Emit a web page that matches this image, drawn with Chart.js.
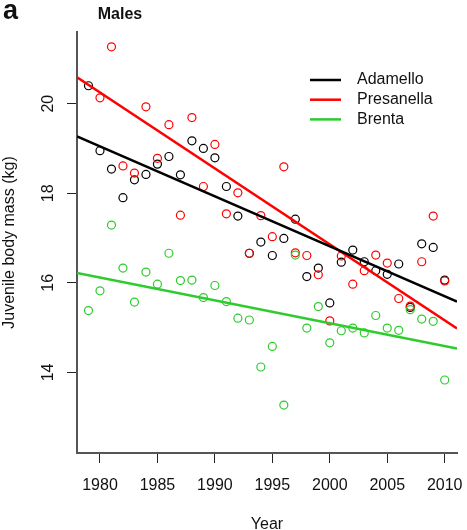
<!DOCTYPE html>
<html>
<head>
<meta charset="utf-8">
<script src="https://cdn.jsdelivr.net/npm/chart.js@4/dist/chart.umd.min.js"></script>
<style>
  html, body { margin: 0; padding: 0; background: #fff; }
  #wrap { position: relative; width: 467px; height: 530px; }
</style>
</head>
<body>
<div id="wrap"><canvas id="chart"></canvas></div>
<script>
// Juvenile body mass of males by year, three mountain groups
const years = [1979, 1980, 1981, 1982, 1983, 1984, 1985, 1986, 1987, 1988, 1989,
    1990, 1991, 1992, 1993, 1994, 1995, 1996, 1997, 1998, 1999,
    2000, 2001, 2002, 2003, 2004, 2005, 2006, 2007, 2008, 2009, 2010];

const adamello = [20.40, 18.95, 18.54, 17.90, 18.30, 18.42, 18.65, 18.82, 18.41, 19.17, 19.00,
    18.79, 18.15, 17.49, 16.66, 16.91, 16.61, 16.99, 17.42, 16.14, 16.33,
    15.55, 16.46, 16.73, 16.47, 16.27, 16.19, 16.42, 15.45, 16.87, 16.79, 16.06];

const presanella = [null, 20.13, 21.27, 18.61, 18.45, 19.93, 18.78, 19.53, 17.51, 19.69, 18.15,
    19.09, 17.54, 18.01, 16.66, 17.50, 17.03, 18.59, 16.67, 16.61, 16.18,
    15.15, 16.60, 15.97, 16.27, 16.62, 16.44, 15.65, 15.48, 16.47, 17.49, 16.04];

const brenta = [15.38, 15.82, 17.29, 16.33, 15.57, 16.24, 15.97, 16.66, 16.05, 16.06, 15.67,
    15.94, 15.58, 15.21, 15.17, 14.12, 14.58, 13.27, 16.62, 14.99, 15.47,
    14.66, 14.93, 14.99, 14.88, 15.27, 14.99, 14.94, 15.40, 15.19, 15.14, 13.83];

// regression lines, read at the two edges of the plot
const fitYears = [1978, 2011.07];
const adamelloFit = [19.27, 15.58];
const presanellaFit = [20.59, 14.98];
const brentaFit = [16.22, 14.53];

const xTicks = [1980, 1985, 1990, 1995, 2000, 2005, 2010];
const yTicks = [14, 16, 18, 20];

const FONT = '"Liberation Sans", Arial, Helvetica, sans-serif';
const BLACK = '#000000';
const RED = '#ff0000';
const GREEN = '#2ccc2c';

function points(vals) {
    return years.map(function (yr, i) { return { x: yr, y: vals[i] }; })
        .filter(function (p) { return p.y !== null; });
}
function fitLine(vals) {
    return fitYears.map(function (yr, i) { return { x: yr, y: vals[i] }; });
}
function scatterSet(label, vals, color, order) {
    return {
        type: 'scatter', label: label, data: points(vals), order: order,
        pointStyle: 'circle', pointRadius: 4, pointHoverRadius: 4,
        pointBorderWidth: 1.2, borderColor: color, backgroundColor: 'rgba(0,0,0,0)'
    };
}
function lineSet(label, vals, color) {
    return {
        type: 'line', label: label, data: fitLine(vals), order: 0,
        borderColor: color, borderWidth: 2.5, pointRadius: 0, fill: false, tension: 0
    };
}

const series = [
    { name: 'Adamello', color: BLACK },
    { name: 'Presanella', color: RED },
    { name: 'Brenta', color: GREEN }
];

// rotated y labels, panel letter, title and legend
const decorations = {
    id: 'decorations',
    afterDraw: function (chart) {
        const ctx = chart.ctx;
        const ys = chart.scales.y;
        ctx.save();
        ctx.fillStyle = '#111';
        ctx.font = '16px ' + FONT;
        ctx.textAlign = 'center';
        ctx.textBaseline = 'alphabetic';
        yTicks.forEach(function (v) {
            const py = ys.getPixelForValue(v);
            ctx.save();
            ctx.translate(53, py);
            ctx.rotate(-Math.PI / 2);
            ctx.fillText(String(v), 0, 0);
            ctx.restore();
        });

        ctx.textAlign = 'left';
        ctx.font = 'bold 27px ' + FONT;
        ctx.fillText('a', 3, 19);
        ctx.textAlign = 'center';
        ctx.font = 'bold 16px ' + FONT;
        ctx.fillText('Males', 120, 18.5);

        ctx.textAlign = 'left';
        ctx.textBaseline = 'middle';
        ctx.font = '16px ' + FONT;
        series.forEach(function (s, i) {
            const ly = 80 + i * 19.7;
            ctx.strokeStyle = s.color;
            ctx.lineWidth = 2.5;
            ctx.beginPath();
            ctx.moveTo(310, ly);
            ctx.lineTo(341, ly);
            ctx.stroke();
            ctx.fillStyle = '#111';
            ctx.fillText(s.name, 357, ly);
        });
        ctx.restore();
    }
};

new Chart(document.getElementById('chart'), {
    data: {
        datasets: [
            lineSet('Adamello fit', adamelloFit, BLACK),
            lineSet('Presanella fit', presanellaFit, RED),
            lineSet('Brenta fit', brentaFit, GREEN),
            scatterSet('Brenta', brenta, GREEN, 1),
            scatterSet('Presanella', presanella, RED, 2),
            scatterSet('Adamello', adamello, BLACK, 3)
        ]
    },
    options: {
        responsive: true,
        maintainAspectRatio: false,
        animation: false,
        layout: { padding: { top: 32, right: 10, left: 0, bottom: 0 } },
        plugins: {
            legend: { display: false },
            tooltip: { enabled: false },
            title: { display: false }
        },
        scales: {
            x: {
                type: 'linear',
                position: 'bottom',
                min: 1978,
                max: 2011.07,
                afterBuildTicks: function (s) {
                    s.ticks = xTicks.map(function (v) { return { value: v }; });
                },
                afterFit: function (s) {
                    s.height = 77;
                    s.paddingLeft = 0;
                    s.paddingRight = 0;
                },
                border: { display: true, color: '#555', width: 2 },
                grid: { display: true, drawOnChartArea: false, drawTicks: true, tickLength: 10, tickColor: '#222', tickWidth: 1 },
                ticks: {
                    autoSkip: false, maxRotation: 0, minRotation: 0, padding: 13,
                    color: '#111', font: { family: FONT, size: 16 },
                    callback: function (v) { return String(v); }
                },
                title: {
                    display: true, text: 'Year', color: '#111',
                    font: { family: FONT, size: 16 },
                    padding: { top: 0, bottom: -4 }
                }
            },
            y: {
                type: 'linear',
                position: 'left',
                min: 12.2,
                max: 21.6,
                afterBuildTicks: function (s) {
                    s.ticks = yTicks.map(function (v) { return { value: v }; });
                },
                afterFit: function (s) {
                    s.width = 77;
                    s.paddingTop = 0;
                    s.paddingBottom = 0;
                },
                border: { display: true, color: '#555', width: 2 },
                grid: { display: true, drawOnChartArea: false, drawTicks: true, tickLength: 10, tickColor: '#222', tickWidth: 1 },
                ticks: { color: 'rgba(0,0,0,0)', font: { family: FONT, size: 16 } },
                title: {
                    display: true, text: 'Juvenile body mass (kg)', color: '#111',
                    font: { family: FONT, size: 16 },
                    padding: { top: 0, bottom: 0 }
                }
            }
        }
    },
    plugins: [decorations]
});
</script>
</body>
</html>
